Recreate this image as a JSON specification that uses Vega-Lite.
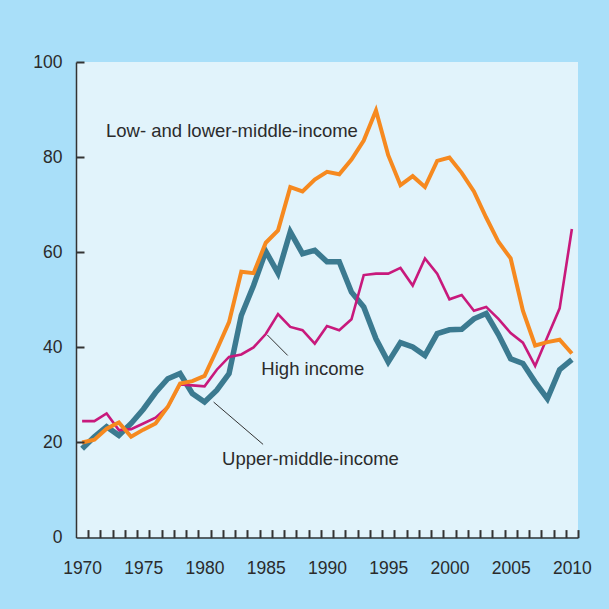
{
  "$schema": "https://vega.github.io/schema/vega-lite/v6.json",
  "autosize": "none",
  "width": 502,
  "height": 475.6,
  "padding": {"left": 76, "top": 62, "right": 31, "bottom": 71.4},
  "background": "#a9dff9",
  "config": {
    "view": {"fill": "#e1f3fb", "stroke": null},
    "font": "Liberation Sans",
    "axis": {"labelFont": "Liberation Sans", "labelColor": "#2b2b2b", "grid": false, "title": null, "domainColor": "#333333"}
  },
  "datasets": {
    "series": [
      {"year": 1970, "group": "Upper-middle-income", "value": 18.7},
      {"year": 1971, "group": "Upper-middle-income", "value": 21.2},
      {"year": 1972, "group": "Upper-middle-income", "value": 23.3},
      {"year": 1973, "group": "Upper-middle-income", "value": 21.5},
      {"year": 1974, "group": "Upper-middle-income", "value": 24.0},
      {"year": 1975, "group": "Upper-middle-income", "value": 27.0},
      {"year": 1976, "group": "Upper-middle-income", "value": 30.5},
      {"year": 1977, "group": "Upper-middle-income", "value": 33.4},
      {"year": 1978, "group": "Upper-middle-income", "value": 34.5},
      {"year": 1979, "group": "Upper-middle-income", "value": 30.3},
      {"year": 1980, "group": "Upper-middle-income", "value": 28.5},
      {"year": 1981, "group": "Upper-middle-income", "value": 31.0},
      {"year": 1982, "group": "Upper-middle-income", "value": 34.5},
      {"year": 1983, "group": "Upper-middle-income", "value": 46.7},
      {"year": 1984, "group": "Upper-middle-income", "value": 53.0},
      {"year": 1985, "group": "Upper-middle-income", "value": 60.2},
      {"year": 1986, "group": "Upper-middle-income", "value": 55.6},
      {"year": 1987, "group": "Upper-middle-income", "value": 64.3},
      {"year": 1988, "group": "Upper-middle-income", "value": 59.7},
      {"year": 1989, "group": "Upper-middle-income", "value": 60.4},
      {"year": 1990, "group": "Upper-middle-income", "value": 58.0},
      {"year": 1991, "group": "Upper-middle-income", "value": 58.0},
      {"year": 1992, "group": "Upper-middle-income", "value": 51.6},
      {"year": 1993, "group": "Upper-middle-income", "value": 48.5},
      {"year": 1994, "group": "Upper-middle-income", "value": 41.8},
      {"year": 1995, "group": "Upper-middle-income", "value": 36.9},
      {"year": 1996, "group": "Upper-middle-income", "value": 41.0},
      {"year": 1997, "group": "Upper-middle-income", "value": 40.1},
      {"year": 1998, "group": "Upper-middle-income", "value": 38.3},
      {"year": 1999, "group": "Upper-middle-income", "value": 42.9},
      {"year": 2000, "group": "Upper-middle-income", "value": 43.7},
      {"year": 2001, "group": "Upper-middle-income", "value": 43.8},
      {"year": 2002, "group": "Upper-middle-income", "value": 46.0},
      {"year": 2003, "group": "Upper-middle-income", "value": 47.1},
      {"year": 2004, "group": "Upper-middle-income", "value": 42.7},
      {"year": 2005, "group": "Upper-middle-income", "value": 37.6},
      {"year": 2006, "group": "Upper-middle-income", "value": 36.6},
      {"year": 2007, "group": "Upper-middle-income", "value": 32.7},
      {"year": 2008, "group": "Upper-middle-income", "value": 29.2},
      {"year": 2009, "group": "Upper-middle-income", "value": 35.3},
      {"year": 2010, "group": "Upper-middle-income", "value": 37.4},
      {"year": 1970, "group": "High income", "value": 24.5},
      {"year": 1971, "group": "High income", "value": 24.5},
      {"year": 1972, "group": "High income", "value": 26.1},
      {"year": 1973, "group": "High income", "value": 22.6},
      {"year": 1974, "group": "High income", "value": 22.8},
      {"year": 1975, "group": "High income", "value": 24.0},
      {"year": 1976, "group": "High income", "value": 25.2},
      {"year": 1977, "group": "High income", "value": 27.5},
      {"year": 1978, "group": "High income", "value": 32.2},
      {"year": 1979, "group": "High income", "value": 32.0},
      {"year": 1980, "group": "High income", "value": 31.8},
      {"year": 1981, "group": "High income", "value": 35.3},
      {"year": 1982, "group": "High income", "value": 38.0},
      {"year": 1983, "group": "High income", "value": 38.5},
      {"year": 1984, "group": "High income", "value": 40.0},
      {"year": 1985, "group": "High income", "value": 42.8},
      {"year": 1986, "group": "High income", "value": 47.0},
      {"year": 1987, "group": "High income", "value": 44.3},
      {"year": 1988, "group": "High income", "value": 43.6},
      {"year": 1989, "group": "High income", "value": 40.8},
      {"year": 1990, "group": "High income", "value": 44.5},
      {"year": 1991, "group": "High income", "value": 43.6},
      {"year": 1992, "group": "High income", "value": 45.9},
      {"year": 1993, "group": "High income", "value": 55.2},
      {"year": 1994, "group": "High income", "value": 55.5},
      {"year": 1995, "group": "High income", "value": 55.5},
      {"year": 1996, "group": "High income", "value": 56.7},
      {"year": 1997, "group": "High income", "value": 53.0},
      {"year": 1998, "group": "High income", "value": 58.7},
      {"year": 1999, "group": "High income", "value": 55.5},
      {"year": 2000, "group": "High income", "value": 50.1},
      {"year": 2001, "group": "High income", "value": 51.0},
      {"year": 2002, "group": "High income", "value": 47.7},
      {"year": 2003, "group": "High income", "value": 48.5},
      {"year": 2004, "group": "High income", "value": 46.0},
      {"year": 2005, "group": "High income", "value": 43.0},
      {"year": 2006, "group": "High income", "value": 41.0},
      {"year": 2007, "group": "High income", "value": 36.1},
      {"year": 2008, "group": "High income", "value": 42.2},
      {"year": 2009, "group": "High income", "value": 48.2},
      {"year": 2010, "group": "High income", "value": 64.9},
      {"year": 1970, "group": "Low- and lower-middle-income", "value": 20.0},
      {"year": 1971, "group": "Low- and lower-middle-income", "value": 20.6},
      {"year": 1972, "group": "Low- and lower-middle-income", "value": 22.9},
      {"year": 1973, "group": "Low- and lower-middle-income", "value": 24.2},
      {"year": 1974, "group": "Low- and lower-middle-income", "value": 21.2},
      {"year": 1975, "group": "Low- and lower-middle-income", "value": 22.7},
      {"year": 1976, "group": "Low- and lower-middle-income", "value": 24.0},
      {"year": 1977, "group": "Low- and lower-middle-income", "value": 27.5},
      {"year": 1978, "group": "Low- and lower-middle-income", "value": 32.4},
      {"year": 1979, "group": "Low- and lower-middle-income", "value": 32.9},
      {"year": 1980, "group": "Low- and lower-middle-income", "value": 34.0},
      {"year": 1981, "group": "Low- and lower-middle-income", "value": 39.5},
      {"year": 1982, "group": "Low- and lower-middle-income", "value": 45.3},
      {"year": 1983, "group": "Low- and lower-middle-income", "value": 55.9},
      {"year": 1984, "group": "Low- and lower-middle-income", "value": 55.6},
      {"year": 1985, "group": "Low- and lower-middle-income", "value": 62.0},
      {"year": 1986, "group": "Low- and lower-middle-income", "value": 64.6},
      {"year": 1987, "group": "Low- and lower-middle-income", "value": 73.7},
      {"year": 1988, "group": "Low- and lower-middle-income", "value": 72.8},
      {"year": 1989, "group": "Low- and lower-middle-income", "value": 75.3},
      {"year": 1990, "group": "Low- and lower-middle-income", "value": 76.9},
      {"year": 1991, "group": "Low- and lower-middle-income", "value": 76.4},
      {"year": 1992, "group": "Low- and lower-middle-income", "value": 79.5},
      {"year": 1993, "group": "Low- and lower-middle-income", "value": 83.5},
      {"year": 1994, "group": "Low- and lower-middle-income", "value": 89.8},
      {"year": 1995, "group": "Low- and lower-middle-income", "value": 80.4},
      {"year": 1996, "group": "Low- and lower-middle-income", "value": 74.1},
      {"year": 1997, "group": "Low- and lower-middle-income", "value": 76.0},
      {"year": 1998, "group": "Low- and lower-middle-income", "value": 73.7},
      {"year": 1999, "group": "Low- and lower-middle-income", "value": 79.2},
      {"year": 2000, "group": "Low- and lower-middle-income", "value": 79.9},
      {"year": 2001, "group": "Low- and lower-middle-income", "value": 76.7},
      {"year": 2002, "group": "Low- and lower-middle-income", "value": 72.8},
      {"year": 2003, "group": "Low- and lower-middle-income", "value": 67.3},
      {"year": 2004, "group": "Low- and lower-middle-income", "value": 62.2},
      {"year": 2005, "group": "Low- and lower-middle-income", "value": 58.7},
      {"year": 2006, "group": "Low- and lower-middle-income", "value": 47.7},
      {"year": 2007, "group": "Low- and lower-middle-income", "value": 40.4},
      {"year": 2008, "group": "Low- and lower-middle-income", "value": 41.1},
      {"year": 2009, "group": "Low- and lower-middle-income", "value": 41.6},
      {"year": 2010, "group": "Low- and lower-middle-income", "value": 38.7}
    ],
    "notes": [
      {"label": "Low- and lower-middle-income", "year": 1971.95, "value": 84.3},
      {"label": "High income", "year": 1984.64, "value": 34.1},
      {"label": "Upper-middle-income", "year": 1981.43, "value": 15.25}
    ],
    "leaders": [
      {"year": 1985.13, "value": 42.6, "year2": 1986.79, "value2": 38.3},
      {"year": 1980.74, "value": 28.5, "year2": 1984.78, "value2": 19.6}
    ]
  },
  "resolve": {"axis": {"x": "independent", "y": "independent"}},
  "layer": [
    {
      "data": {"name": "series"},
      "transform": [{"filter": "datum.group === 'Upper-middle-income'"}],
      "mark": {"type": "line", "color": "#3b7a90", "strokeWidth": 5.5},
      "encoding": {
        "x": {"field": "year", "type": "quantitative", "scale": {"domain": [1969.5, 2010.5], "nice": false, "zero": false},
          "axis": {"orient": "bottom", "values": [1970, 1975, 1980, 1985, 1990, 1995, 2000, 2005, 2010], "format": "d", "ticks": false, "domain": true, "domainWidth": 1.5, "labelFontSize": 17.5, "labelPadding": 22, "labelFlush": false}},
        "y": {"field": "value", "type": "quantitative", "scale": {"domain": [0, 100], "nice": false},
          "axis": {"orient": "left", "values": [0, 20, 40, 60, 80, 100], "ticks": false, "domainWidth": 1.5, "labelFontSize": 17.5, "labelPadding": 14, "labelFlush": false}}
      }
    },
    {
      "data": {"name": "series"},
      "transform": [{"filter": "datum.group === 'High income'"}],
      "mark": {"type": "line", "color": "#c8197c", "strokeWidth": 2.6},
      "encoding": {
        "x": {"field": "year", "type": "quantitative",
          "axis": {"orient": "bottom", "offset": -8, "values": [1970.5, 1971.5, 1972.5, 1973.5, 1974.5, 1975.5, 1976.5, 1977.5, 1978.5, 1979.5, 1980.5, 1981.5, 1982.5, 1983.5, 1984.5, 1985.5, 1986.5, 1987.5, 1988.5, 1989.5, 1990.5, 1991.5, 1992.5, 1993.5, 1994.5, 1995.5, 1996.5, 1997.5, 1998.5, 1999.5, 2000.5, 2001.5, 2002.5, 2003.5, 2004.5, 2005.5, 2006.5, 2007.5, 2008.5, 2009.5, 2010.5], "labels": false, "domain": false, "ticks": true, "tickSize": 8, "tickWidth": 2, "tickColor": "#333333", "zindex": 1}},
        "y": {"field": "value", "type": "quantitative",
          "axis": {"orient": "left", "offset": -8, "values": [20, 40, 60, 80, 100], "labels": false, "domain": false, "ticks": true, "tickSize": 8, "tickWidth": 2, "tickColor": "#333333", "zindex": 1}}
      }
    },
    {
      "data": {"name": "series"},
      "transform": [{"filter": "datum.group === 'Low- and lower-middle-income'"}],
      "mark": {"type": "line", "color": "#f6891f", "strokeWidth": 4},
      "encoding": {
        "x": {"field": "year", "type": "quantitative", "axis": null},
        "y": {"field": "value", "type": "quantitative", "axis": null}
      }
    },
    {
      "data": {"name": "leaders"},
      "mark": {"type": "rule", "color": "#333333", "strokeWidth": 1},
      "encoding": {
        "x": {"field": "year", "type": "quantitative", "axis": null},
        "y": {"field": "value", "type": "quantitative", "axis": null},
        "x2": {"field": "year2"},
        "y2": {"field": "value2"}
      }
    },
    {
      "data": {"name": "notes"},
      "mark": {"type": "text", "align": "left", "baseline": "alphabetic", "fontSize": 18.5, "color": "#2b2b2b", "font": "Liberation Sans"},
      "encoding": {
        "x": {"field": "year", "type": "quantitative", "axis": null},
        "y": {"field": "value", "type": "quantitative", "axis": null},
        "text": {"field": "label"}
      }
    }
  ]
}
